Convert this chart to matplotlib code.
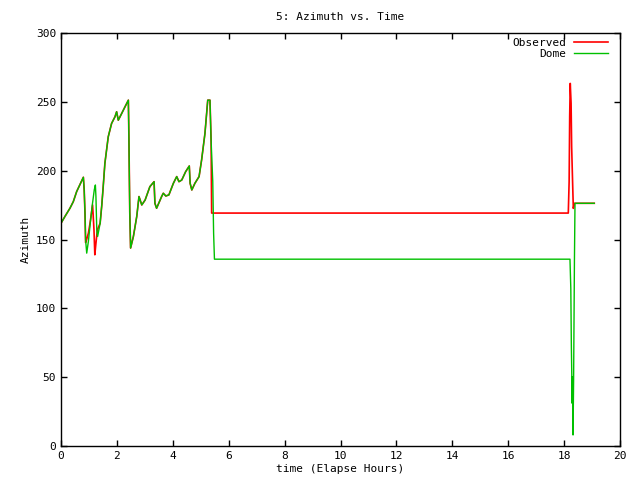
import matplotlib
matplotlib.use('Agg')
import matplotlib.pyplot as plt

# Observed azimuth (hours, degrees)
obs_t = [0.0, 0.14, 0.32, 0.44, 0.56, 0.80, 0.83, 0.86, 0.88, 0.92, 0.98, 1.04, 1.13,
         1.18, 1.21, 1.25, 1.30, 1.40, 1.46, 1.51, 1.57, 1.69, 1.81, 1.93, 1.99, 2.05,
         2.17, 2.29, 2.41, 2.43, 2.46, 2.49, 2.59, 2.71, 2.79, 2.89, 3.01, 3.18, 3.33,
         3.36, 3.42, 3.60, 3.66, 3.75, 3.86, 4.02, 4.14, 4.22, 4.32, 4.46, 4.59, 4.62,
         4.68, 4.79, 4.94, 5.03, 5.15, 5.21, 5.25, 5.33, 5.37, 5.39,
         18.15, 18.18, 18.20, 18.22, 18.25, 18.27, 18.31, 18.33, 18.37, 19.08]
obs_az = [161.8, 166.7, 172.7, 177.5, 184.8, 195.2, 186.0, 168.0, 147.8, 150.2, 154.6, 162.0, 175.1,
          157.0, 138.9, 147.3, 157.0, 161.8, 175.1, 188.4, 205.3, 224.6, 234.3, 239.1, 242.8, 236.7,
          241.5, 246.4, 251.2, 223.4, 170.3, 143.8, 152.2, 166.7, 181.2, 175.1, 178.7, 188.4, 192.0,
          176.3, 172.7, 181.2, 183.6, 181.6, 182.4, 190.8, 195.7, 192.0, 193.2, 199.3, 203.4, 190.8,
          186.0, 190.8, 195.7, 207.7, 227.0, 241.5, 251.2, 251.2, 222.0, 169.2,
          169.2, 192.0, 239.7, 263.4, 249.0, 217.4, 187.2, 172.6, 176.3, 176.3]

# Dome azimuth
dome_t = [0.0, 0.14, 0.32, 0.44, 0.56, 0.80, 0.83, 0.86, 0.88, 0.92, 0.98, 1.04, 1.12,
          1.19, 1.23, 1.25, 1.28, 1.31, 1.40, 1.46, 1.51, 1.57, 1.69, 1.81, 1.93, 1.99,
          2.05, 2.17, 2.29, 2.41, 2.43, 2.46, 2.49, 2.59, 2.71, 2.79, 2.89, 3.01, 3.18,
          3.33, 3.36, 3.42, 3.60, 3.66, 3.75, 3.86, 4.02, 4.14, 4.22, 4.32, 4.46, 4.59,
          4.62, 4.68, 4.79, 4.94, 5.03, 5.15, 5.21, 5.25, 5.33, 5.37, 5.43, 5.46, 5.49,
          18.21, 18.24, 18.26, 18.29, 18.30, 18.32, 18.34, 18.37, 18.39, 19.08]
dome_az = [161.8, 166.7, 172.7, 177.5, 184.8, 195.2, 186.0, 168.0, 149.8, 140.1, 148.6, 160.6, 175.1,
           186.0, 189.6, 181.2, 157.0, 152.2, 161.8, 175.1, 188.4, 205.3, 224.6, 234.3, 239.1, 242.8,
           236.7, 241.5, 246.4, 251.2, 223.4, 170.3, 143.8, 152.2, 166.7, 181.2, 175.1, 178.7, 188.4,
           192.0, 176.3, 172.7, 181.2, 183.6, 181.6, 182.4, 190.8, 195.7, 192.0, 193.2, 199.3, 203.4,
           190.8, 186.0, 190.8, 195.7, 207.7, 227.0, 241.5, 251.2, 251.2, 222.0, 192.0, 154.6, 135.7,
           135.7, 114.5, 72.1, 31.0, 50.3, 8.0, 48.0, 135.0, 176.3, 176.3]

plt.rcParams.update({'font.family': 'DejaVu Sans Mono', 'font.size': 8})
fig = plt.figure(figsize=(6.4, 4.8), dpi=100)
ax = fig.add_axes([61 / 640, 34 / 480, 559 / 640, 413 / 480])

ax.plot(obs_t, obs_az, color='#ff0000', lw=1.2, label='Observed')
ax.plot(dome_t, dome_az, color='#00c000', lw=1.0, label='Dome')

ax.set_xlim(0, 20)
ax.set_ylim(0, 300)
ax.set_xticks(range(0, 21, 2))
ax.set_yticks(range(0, 301, 50))
ax.tick_params(direction='in', length=4, top=True, right=True, width=1)
for s in ax.spines.values():
    s.set_linewidth(1)

ax.set_title('5: Azimuth vs. Time', fontsize=8, pad=9)
ax.set_xlabel('time (Elapse Hours)', labelpad=2)
ax.set_ylabel('Azimuth', labelpad=4)
ax.legend(loc='upper right', bbox_to_anchor=(0.99, 1.004), frameon=False, markerfirst=False,
          handlelength=3, borderaxespad=0.2, labelspacing=0.1, handletextpad=0.7)

fig.savefig('out.png', dpi=100)
